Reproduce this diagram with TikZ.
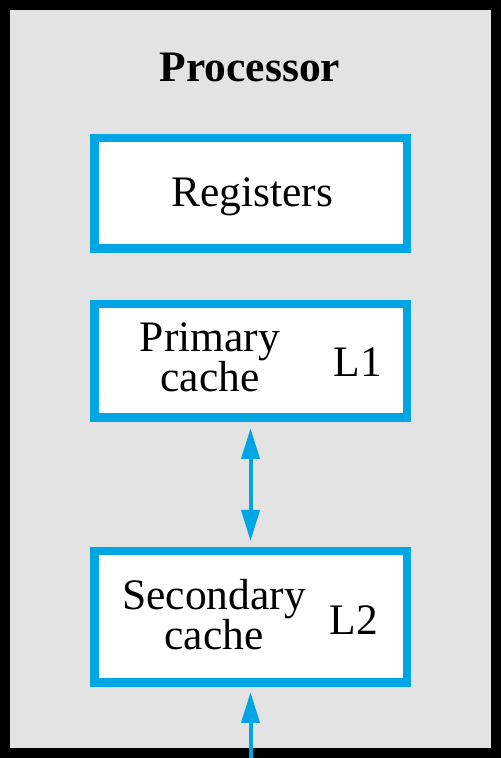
\documentclass[tikz,border=0pt]{standalone}
\usepackage{fontspec}
\setmainfont{Liberation Serif}
\usetikzlibrary{arrows.meta}
\definecolor{boxblue}{RGB}{0,166,228}
\definecolor{framegray}{RGB}{227,227,227}
\tikzset{
  level/.style={draw=boxblue, line width=8.5pt, fill=white, minimum width=312.5pt, inner sep=0pt},
  lbl/.style={inner sep=0pt, anchor=base, font=\fontsize{43.5}{38.5}\selectfont, align=center},
  link/.style={draw=boxblue, line width=4pt, -{Triangle[length=31pt,width=18pt]}},
  biglink/.style={draw=boxblue, line width=4pt, {Triangle[length=31pt,width=18pt]}-{Triangle[length=31pt,width=18pt]}}
}
\begin{document}
\begin{tikzpicture}[x=1pt,y=1pt]
\useasboundingbox (0,0) rectangle (501,758);
\draw[line width=10pt, fill=framegray] (5,5) rectangle (496,753);
\node[lbl, font=\fontsize{43.5}{38.5}\selectfont\bfseries] (proc) at (250,676) {Processor};
\node[level, minimum height=110.5pt] (reg) at (250.5,564.5) {};
\node[level, minimum height=113.5pt] (l1) at (250.5,397) {};
\node[level, minimum height=131.5pt] (l2) at (250.5,141) {};
\node[lbl] (regt) at (252,551) {Registers};
\node[lbl] (l1t) at (210,366) {Primary\\cache};
\node[lbl] (l1n) at (358,381) {L1};
\node[lbl] (l2t) at (214,108) {Secondary\\cache};
\node[lbl] (l2n) at (354,123) {L2};
\draw[biglink, shorten <=6pt, shorten >=6pt] (l1.south) -- (l2.north);
\coordinate (mem) at (250.5,0);
\draw[link, shorten >=5pt] (mem) -- (l2.south);
\end{tikzpicture}
\end{document}
